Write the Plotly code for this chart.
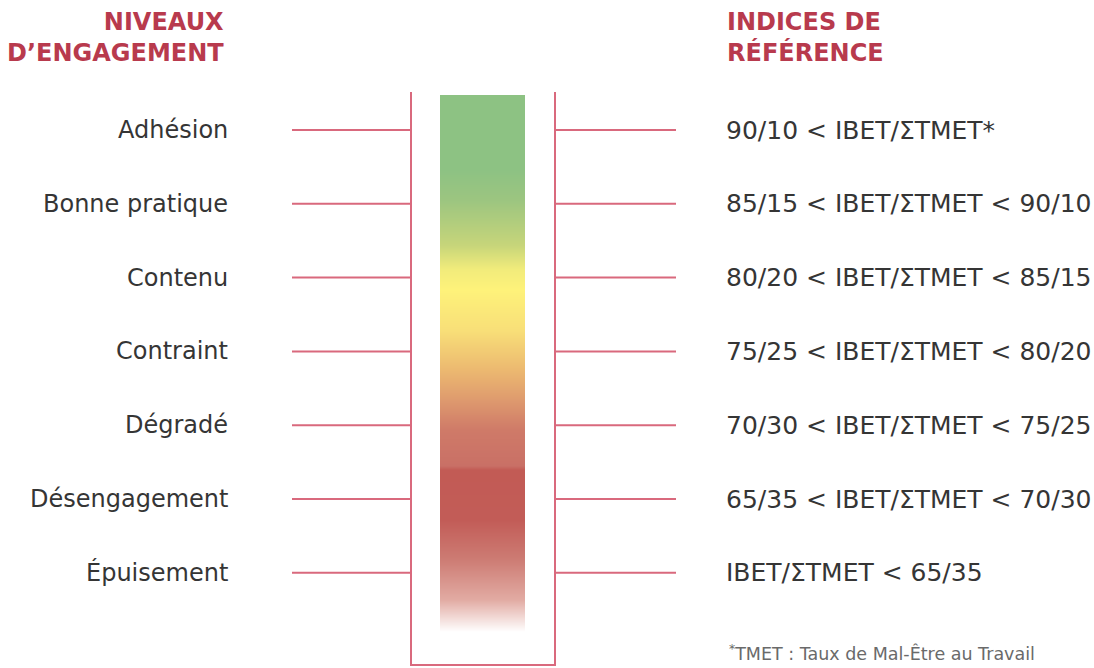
import plotly.graph_objects as go
import numpy as np

levels = ["Adhésion", "Bonne pratique", "Contenu", "Contraint", "Dégradé",
          "Désengagement", "Épuisement"]
indices = ["90/10 < IBET/ΣTMET*", "85/15 < IBET/ΣTMET < 90/10",
           "80/20 < IBET/ΣTMET < 85/15", "75/25 < IBET/ΣTMET < 80/20",
           "70/30 < IBET/ΣTMET < 75/25", "65/35 < IBET/ΣTMET < 70/30",
           "IBET/ΣTMET < 65/35"]
title_left = "NIVEAUX<br>D’ENGAGEMENT"
title_right = "INDICES DE<br>RÉFÉRENCE"
footnote = "<sup>*</sup>TMET : Taux de Mal-Être au Travail"

# gradient stops: (pixel offset from top of bar, colour)
grad_stops = [(95, "#8dc283"), (170, "#8dc283"), (200, "#9cc580"), (245, "#c6d57a"),
              (270, "#f2ec7b"), (290, "#fef27a"), (330, "#f8df78"), (370, "#ecb970"),
              (400, "#de9a6e"), (430, "#cf7a68"), (466, "#c97066"), (470, "#c25b55"),
              (520, "#c25c57"), (560, "#cd7c74"), (600, "#e2aba3"), (632, "#ffffff")]

W, H = 1094, 668
LINE = "#d9697d"
y0, step = 130, 73.8
ys = [y0 + i * step for i in range(len(levels))]

fig = go.Figure()

# gradient bar
top, bot = grad_stops[0][0], grad_stops[-1][0]
yedges = np.arange(top, bot + 1, 1.0)
zc = (yedges[:-1] + yedges[1:]) / 2
cs = [[(p - top) / (bot - top), c] for p, c in grad_stops]
fig.add_trace(go.Heatmap(x=[440, 525], y=yedges, z=zc.reshape(-1, 1), colorscale=cs,
                         zmin=top, zmax=bot, showscale=False, hoverinfo="skip"))

# bracket
fig.add_trace(go.Scatter(x=[411, 411, 555, 555], y=[92, 665, 665, 92], mode="lines",
                         line=dict(color=LINE, width=2), hoverinfo="skip", showlegend=False))

for y, lv, ix in zip(ys, levels, indices):
    fig.add_trace(go.Scatter(x=[292, 411], y=[y, y], mode="lines",
                             line=dict(color=LINE, width=2), hoverinfo="skip", showlegend=False))
    fig.add_trace(go.Scatter(x=[555, 676], y=[y, y], mode="lines",
                             line=dict(color=LINE, width=2), hoverinfo="skip", showlegend=False))
    fig.add_annotation(x=230, y=y, text=lv, xanchor="right", yanchor="middle", showarrow=False,
                       font=dict(family="DejaVu Sans", size=24, color="#353535"))
    fig.add_annotation(x=724, y=y, text=ix, xanchor="left", yanchor="middle", showarrow=False,
                       font=dict(family="DejaVu Sans", size=25, color="#353535"))

fig.add_annotation(x=226, y=37, text="<b>" + title_left + "</b>", xanchor="right", yanchor="middle",
                   align="right", showarrow=False,
                   font=dict(family="DejaVu Sans", size=24, color="#b83a4d"))
fig.add_annotation(x=725, y=37, text="<b>" + title_right + "</b>", xanchor="left", yanchor="middle",
                   align="left", showarrow=False,
                   font=dict(family="DejaVu Sans", size=24, color="#b83a4d"))
fig.add_annotation(x=727, y=653, text=footnote, xanchor="left", yanchor="middle", showarrow=False,
                   font=dict(family="DejaVu Sans", size=17.5, color="#6a6a6a"))

fig.update_layout(width=W, height=H, margin=dict(l=0, r=0, t=0, b=0),
                  paper_bgcolor="white", plot_bgcolor="white", showlegend=False,
                  xaxis=dict(range=[0, W], visible=False, fixedrange=True),
                  yaxis=dict(range=[H, 0], visible=False, fixedrange=True))
fig.write_html("out.html", config={"displayModeBar": False},
               post_script="document.body.style.margin='0';document.body.style.overflow='hidden';")
